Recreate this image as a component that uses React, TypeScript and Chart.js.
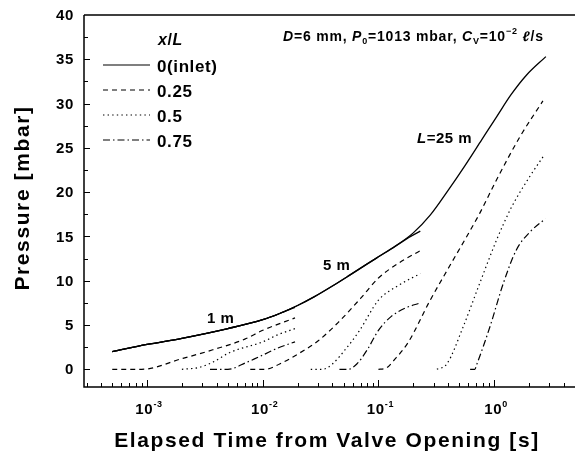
import React, { useEffect, useRef } from "react";
import { Chart, registerables } from "chart.js";

Chart.register(...registerables);

// Axis ranges
const X_MIN = 2.85e-4;
const X_MAX = 5;
const Y_MIN = -2;
const Y_MAX = 40;
const Y_TICKS = [0, 5, 10, 15, 20, 25, 30, 35, 40];
const X_DECADES = [-3, -2, -1, 0];

// L = 1 m
const T_1M_X0 = [5e-4, 1e-3, 2e-3, 5e-3, 1e-2, 0.014, 0.019];
const P_1M_X0 = [2.0, 2.8, 3.5, 4.6, 5.6, 6.3, 7.0];
const T_1M_X25 = [5e-4, 9e-4, 2e-3, 3.7e-3, 7e-3, 1e-2, 0.019];
const P_1M_X25 = [0, 0, 1.2, 2.2, 3.4, 4.4, 5.8];
const T_1M_X50 = [2e-3, 2.8e-3, 3.7e-3, 5.2e-3, 1e-2, 0.0135, 0.019];
const P_1M_X50 = [0, 0.2, 0.8, 1.9, 3.1, 3.9, 4.6];
const T_1M_X75 = [3.5e-3, 5e-3, 7.3e-3, 1e-2, 0.0135, 0.019];
const P_1M_X75 = [0, 0, 0.8, 1.6, 2.4, 3.1];

// L = 5 m
const T_5M_X0 = [5e-4, 1e-3, 2e-3, 5e-3, 1e-2, 0.014, 0.02, 0.028, 0.04, 0.056, 0.08, 0.1, 0.14, 0.19, 0.23];
const P_5M_X0 = [2.0, 2.8, 3.5, 4.6, 5.6, 6.3, 7.2, 8.2, 9.4, 10.6, 11.9, 12.7, 13.9, 15.0, 15.6];
const T_5M_X25 = [7.8e-3, 0.0105, 0.014, 0.02, 0.03, 0.045, 0.07, 0.1, 0.15, 0.23];
const P_5M_X25 = [0, 0, 0.6, 1.7, 3.2, 5.3, 8.0, 10.3, 12.0, 13.4];
const T_5M_X50 = [0.026, 0.033, 0.04, 0.05, 0.068, 0.1, 0.15, 0.23];
const P_5M_X50 = [0, 0, 0.6, 2.0, 4.3, 7.8, 9.5, 10.8];
const T_5M_X75 = [0.046, 0.055, 0.065, 0.08, 0.1, 0.13, 0.17, 0.23];
const P_5M_X75 = [0, 0, 0.6, 2.2, 4.4, 6.0, 6.9, 7.5];

// L = 25 m
const T_25M_X0 = [5e-4, 1e-3, 2e-3, 5e-3, 1e-2, 0.014, 0.02, 0.028, 0.04, 0.056, 0.08, 0.1, 0.14, 0.2, 0.28, 0.4, 0.56, 0.78, 1.05, 1.4, 1.9, 2.8];
const P_25M_X0 = [2.0, 2.8, 3.5, 4.6, 5.6, 6.3, 7.2, 8.2, 9.4, 10.6, 11.9, 12.7, 13.9, 15.4, 17.4, 20.2, 23.0, 25.9, 28.5, 31.0, 33.2, 35.3];
const T_25M_X25 = [0.1, 0.115, 0.14, 0.18, 0.28, 0.41, 0.58, 0.75, 1.05, 1.68, 2.64];
const P_25M_X25 = [0, 0.1, 1.2, 3.0, 7.8, 11.6, 15.0, 17.6, 21.4, 26.3, 30.3];
const T_25M_X50 = [0.32, 0.39, 0.54, 0.75, 1.05, 1.4, 2.04, 2.65];
const P_25M_X50 = [0, 0.6, 4.8, 9.7, 14.6, 18.2, 21.8, 24.0];
const T_25M_X75 = [0.62, 0.68, 0.71, 0.92, 1.2, 1.56, 2.04, 2.77];
const P_25M_X75 = [0, 0, 0.6, 4.8, 9.7, 13.5, 15.5, 17.0];

const LEGEND_LABELS = ["0(inlet)", "0.25", "0.5", "0.75"];
const DASHES: number[][] = [[], [5, 4], [1.4, 3.2], [7, 3, 1.5, 3]];

const FONT = '"Liberation Sans", Arial, Helvetica, sans-serif';

const pts = (t: number[], p: number[]) => t.map((x, i) => ({ x, y: p[i] }));

type Run = { t: string; font: string; dy?: number };

function drawRuns(ctx: CanvasRenderingContext2D, x: number, y: number, runs: Run[]) {
  let cx = x;
  for (const r of runs) {
    ctx.font = r.font;
    ctx.fillText(r.t, cx, y + (r.dy || 0));
    cx += ctx.measureText(r.t).width;
  }
  return cx;
}

function runsWidth(ctx: CanvasRenderingContext2D, runs: Run[]) {
  let w = 0;
  for (const r of runs) {
    ctx.font = r.font;
    w += ctx.measureText(r.t).width;
  }
  return w;
}

const decor = {
  id: "decor",
  afterDraw(chart: any) {
    const ctx: CanvasRenderingContext2D = chart.ctx;
    const xs = chart.scales.x;
    const ys = chart.scales.y;
    const a = chart.chartArea;
    ctx.save();
    ctx.strokeStyle = "#000";
    ctx.fillStyle = "#000";
    ctx.lineWidth = 1.5;
    ctx.setLineDash([]);

    // frame
    ctx.beginPath();
    ctx.moveTo(a.left, a.top);
    ctx.lineTo(a.left, a.bottom);
    ctx.lineTo(a.right, a.bottom);
    ctx.moveTo(a.left, a.top);
    ctx.lineTo(a.right, a.top);
    ctx.stroke();

    // y ticks (inside)
    ctx.lineWidth = 1;
    for (let v = 0; v < Y_MAX; v += 2.5) {
      const y = Math.round(ys.getPixelForValue(v)) + 0.5;
      const len = v % 5 === 0 ? 6 : 4;
      ctx.beginPath();
      ctx.moveTo(a.left, y);
      ctx.lineTo(a.left + len, y);
      ctx.stroke();
    }
    // x ticks (inside)
    for (let d = -4; d <= 0; d++) {
      for (let m = 1; m <= 9; m++) {
        const v = m * Math.pow(10, d);
        if (v < X_MIN || v > X_MAX) continue;
        const x = Math.round(xs.getPixelForValue(v)) + 0.5;
        const len = m === 1 ? 7 : 4;
        ctx.beginPath();
        ctx.moveTo(x, a.bottom);
        ctx.lineTo(x, a.bottom - len);
        ctx.stroke();
      }
    }

    // y tick labels
    (ctx as any).letterSpacing = "0.7px";
    ctx.textAlign = "right";
    ctx.textBaseline = "middle";
    ctx.font = `bold 15px ${FONT}`;
    for (const v of Y_TICKS) {
      ctx.fillText(String(v), a.left - 10, ys.getPixelForValue(v) + 1);
    }

    // x tick labels: 10 with exponent
    ctx.textAlign = "left";
    ctx.textBaseline = "alphabetic";
    for (const d of X_DECADES) {
      const runs: Run[] = [
        { t: "10", font: `bold 15px ${FONT}` },
        { t: d === 0 ? "0" : `-${-d}`, font: `bold 9px ${FONT}`, dy: -7 },
      ];
      const w = runsWidth(ctx, runs);
      const cx = xs.getPixelForValue(Math.pow(10, d));
      drawRuns(ctx, cx - w / 2 + 2, 414, runs);
    }

    // axis titles
    (ctx as any).letterSpacing = "1.6px";
    ctx.font = `bold 21px ${FONT}`;
    ctx.textAlign = "center";
    ctx.fillText("Elapsed Time from Valve Opening [s]", 327, 447);
    ctx.save();
    ctx.translate(29, 198);
    ctx.rotate(-Math.PI / 2);
    ctx.fillText("Pressure [mbar]", 0, 0);
    ctx.restore();

    // legend
    (ctx as any).letterSpacing = "0.6px";
    ctx.textAlign = "left";
    drawRuns(ctx, 158, 45, [
      { t: "x", font: `italic bold 16px ${FONT}` },
      { t: "/", font: `bold 16px ${FONT}` },
      { t: "L", font: `italic bold 16px ${FONT}` },
    ]);
    const rows = [67, 92, 117, 142];
    LEGEND_LABELS.forEach((lab, i) => {
      ctx.setLineDash(DASHES[i]);
      ctx.lineWidth = 1.2;
      ctx.beginPath();
      ctx.moveTo(103, rows[i] - 2);
      ctx.lineTo(150, rows[i] - 2);
      ctx.stroke();
      ctx.setLineDash([]);
      ctx.font = `bold 17px ${FONT}`;
      ctx.textBaseline = "middle";
      ctx.fillText(lab, 157, rows[i]);
    });
    ctx.textBaseline = "alphabetic";

    // parameter annotation
    (ctx as any).letterSpacing = "0.8px";
    const B = `bold 14px ${FONT}`;
    const I = `italic bold 14px ${FONT}`;
    const S = `bold 9px ${FONT}`;
    drawRuns(ctx, 283, 41, [
      { t: "D", font: I },
      { t: "=6 mm, ", font: B },
      { t: "P", font: I },
      { t: "0", font: S, dy: 3 },
      { t: "=1013 mbar, ", font: B },
      { t: "C", font: I },
      { t: "V", font: S, dy: 3 },
      { t: "=10", font: B },
      { t: "\u22122", font: S, dy: -7 },
      { t: " ", font: B },
      { t: "\u2113", font: I },
      { t: "/s", font: B },
    ]);

    // curve group labels
    (ctx as any).letterSpacing = "0.5px";
    drawRuns(ctx, 207, 323, [{ t: "1 m", font: `bold 15px ${FONT}` }]);
    drawRuns(ctx, 323, 270, [{ t: "5 m", font: `bold 15px ${FONT}` }]);
    drawRuns(ctx, 417, 143, [
      { t: "L", font: `italic bold 15px ${FONT}` },
      { t: "=25 m", font: `bold 15px ${FONT}` },
    ]);

    ctx.restore();
  },
};

export default function App() {
  const ref = useRef<HTMLCanvasElement | null>(null);

  useEffect(() => {
    if (!ref.current) return;
    const groups = [
      [pts(T_1M_X0, P_1M_X0), pts(T_1M_X25, P_1M_X25), pts(T_1M_X50, P_1M_X50), pts(T_1M_X75, P_1M_X75)],
      [pts(T_5M_X0, P_5M_X0), pts(T_5M_X25, P_5M_X25), pts(T_5M_X50, P_5M_X50), pts(T_5M_X75, P_5M_X75)],
      [pts(T_25M_X0, P_25M_X0), pts(T_25M_X25, P_25M_X25), pts(T_25M_X50, P_25M_X50), pts(T_25M_X75, P_25M_X75)],
    ];
    const names = ["1 m", "5 m", "25 m"];
    const datasets: any[] = [];
    groups.forEach((g, gi) =>
      g.forEach((data, i) =>
        datasets.push({
          label: `L=${names[gi]}, x/L=${LEGEND_LABELS[i]}`,
          data,
          borderColor: "#000",
          borderWidth: i === 0 ? 1.3 : 1.2,
          borderDash: DASHES[i],
          pointRadius: 0,
          fill: false,
          cubicInterpolationMode: "monotone",
        })
      )
    );

    const chart = new Chart(ref.current, {
      type: "line",
      data: { datasets },
      options: {
        animation: false,
        responsive: false,
        devicePixelRatio: 1,
        layout: { padding: { left: 84, top: 15, right: 0, bottom: 68 } },
        plugins: { legend: { display: false }, tooltip: { enabled: false } },
        scales: {
          x: { type: "logarithmic", min: X_MIN, max: X_MAX, display: false },
          y: { type: "linear", min: Y_MIN, max: Y_MAX, display: false },
        },
      },
      plugins: [decor],
    });
    return () => chart.destroy();
  }, []);

  return (
    <div style={{ position: "absolute", left: 0, top: 0, width: 575, height: 455, overflow: "hidden", background: "#fff" }}>
      <canvas ref={ref} width={575} height={455} style={{ width: 575, height: 455, display: "block" }} />
    </div>
  );
}
